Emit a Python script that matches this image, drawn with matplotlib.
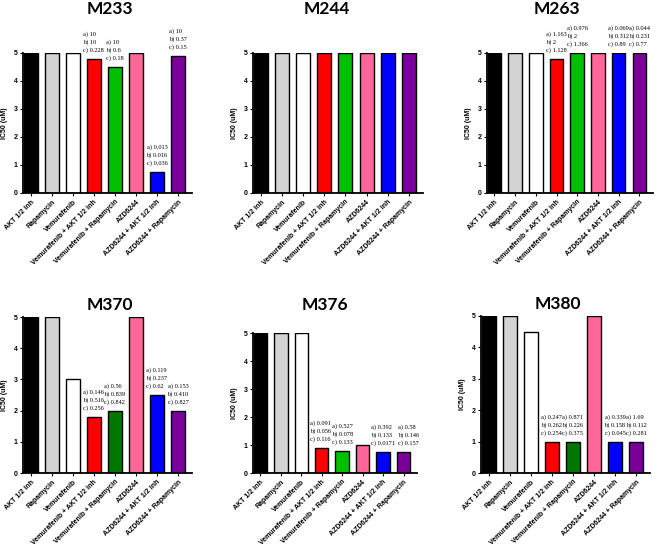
import matplotlib
matplotlib.use("Agg")
import matplotlib.pyplot as plt

categories = ["AKT 1/2 inh", "Rapamycin", "Vemurafenib", "Vemurafenib + AKT 1/2 inh",
              "Vemurafenib + Rapamycin", "AZD6244", "AZD6244 + AKT 1/2 inh",
              "AZD6244 + Rapamycin"]

titles = ["M233", "M244", "M263", "M370", "M376", "M380"]

m233 = [5, 5, 5, 4.8, 4.5, 5, 0.75, 4.9]
m244 = [5, 5, 5, 5, 5, 5, 5, 5]
m263 = [5, 5, 5, 4.8, 5, 5, 5, 5]
m370 = [5, 5, 3, 1.8, 2, 5, 2.5, 2]
m376 = [5, 5, 5, 0.9, 0.8, 1.0, 0.75, 0.75]
m380 = [5, 5, 4.5, 1, 1, 5, 1, 1]
values = [m233, m244, m263, m370, m376, m380]

ann_m233 = [None, None, None, "a) 10\nb) 10\nc) 0.228", "a) 10\nb) 0.6\nc) 0.18", None,
            "a) 0.013\nb) 0.016\nc) 0.036", "a) 10\nb) 0.37\nc) 0.15"]
ann_m244 = [None] * 8
ann_m263 = [None, None, None, "a) 1.163\nb) 2\nc) 1.128", "a) 0.976\nb) 2\nc) 1.366", None,
            "a) 0.069\nb) 0.312\nc) 0.89", "a) 0.044\nb) 0.231\nc) 0.77"]
ann_m370 = [None, None, None, "a) 0.146\nb) 0.516\nc) 0.256", "a) 0.56\nb) 0.839\nc) 0.842", None,
            "a) 0.119\nb) 0.237\nc) 0.62", "a) 0.153\nb) 0.410\nc) 0.827"]
ann_m376 = [None, None, None, "a) 0.091\nb) 0.056\nc) 0.116", "a) 0.527\nb) 0.078\nc) 0.133", None,
            "a) 0.392\nb) 0.133\nc) 0.0171", "a) 0.58\nb) 0.146\nc) 0.157"]
ann_m380 = [None, None, None, "a) 0.247\nb) 0.262\nc) 0.254", "a) 0.871\nb) 0.226\nc) 0.375", None,
            "a) 0.339\nb) 0.158\nc) 0.045", "a) 1.69\nb) 0.112\nc) 0.281"]
annotations = [ann_m233, ann_m244, ann_m263, ann_m370, ann_m376, ann_m380]

colors_bright = ["#000000", "#d3d3d3", "#ffffff", "#ff0000", "#00c000", "#ff6699", "#0000ff", "#7a0099"]
colors_dark = ["#000000", "#d3d3d3", "#ffffff", "#ff0000", "#007800", "#ff6699", "#0000ff", "#7a0099"]
panel_colors = [colors_bright, colors_bright, colors_bright, colors_dark, colors_bright, colors_dark]

W, H = 662, 551
fig = plt.figure(figsize=(W / 100, H / 100), dpi=100)

# axes boxes in pixels: left, right, top, bottom
boxes = [(23, 192, 53, 193), (253, 423, 53, 193), (487, 653, 53, 193),
         (23, 192, 317, 473), (253, 417, 333, 473), (481, 650, 316, 473)]
title_pos = [(110, 9), (327, 9), (557, 9), (110, 305), (325, 305), (558, 304)]
# small horizontal nudges (points) for crowded annotations: (panel, bar) -> dx
nudge = {(4, 7): 4, (4, 3): -1}

for i in range(6):
    l, r, t, b = boxes[i]
    ax = fig.add_axes([l / W, 1 - b / H, (r - l) / W, (b - t) / H])
    x = list(range(len(categories)))
    ax.bar(x, values[i], width=0.66, color=panel_colors[i], edgecolor="black", linewidth=1.0)
    ax.set_ylim(0, 5)
    ax.set_xlim(-0.36, 7.66)
    ax.set_yticks([0, 1, 2, 3, 4, 5])
    ax.set_xticks(x)
    ax.set_xticklabels(categories, rotation=45, ha="right", rotation_mode="anchor",
                       fontsize=5, fontweight="bold", family="Liberation Sans")
    for lab in ax.get_yticklabels():
        lab.set_fontsize(5)
        lab.set_fontweight("bold")
        lab.set_family("Liberation Sans")
    ax.tick_params(axis="both", direction="out", length=2.5, width=0.8, pad=1.5)
    for s in ["top", "right"]:
        ax.spines[s].set_visible(False)
    for s in ["left", "bottom"]:
        ax.spines[s].set_linewidth(1.3)
    ax.set_ylabel("IC50 (uM)", fontsize=5, fontweight="bold", family="Liberation Sans", labelpad=4)
    ax.patch.set_alpha(0)
    for j, txt in enumerate(annotations[i]):
        if txt:
            dx = nudge.get((i, j), 0)
            ax.annotate(txt, xy=(j, values[i][j]), xytext=(dx, 4), textcoords="offset points",
                        ha="center", va="bottom", multialignment="left", fontsize=4.6,
                        family="Liberation Serif", linespacing=1.5, annotation_clip=False)
    tx, ty = title_pos[i]
    fig.text(tx / W, 1 - ty / H, titles[i], ha="center", va="center", fontsize=12.5,
             fontweight="bold", family="Lato")

fig.savefig("out.png", dpi=100)
